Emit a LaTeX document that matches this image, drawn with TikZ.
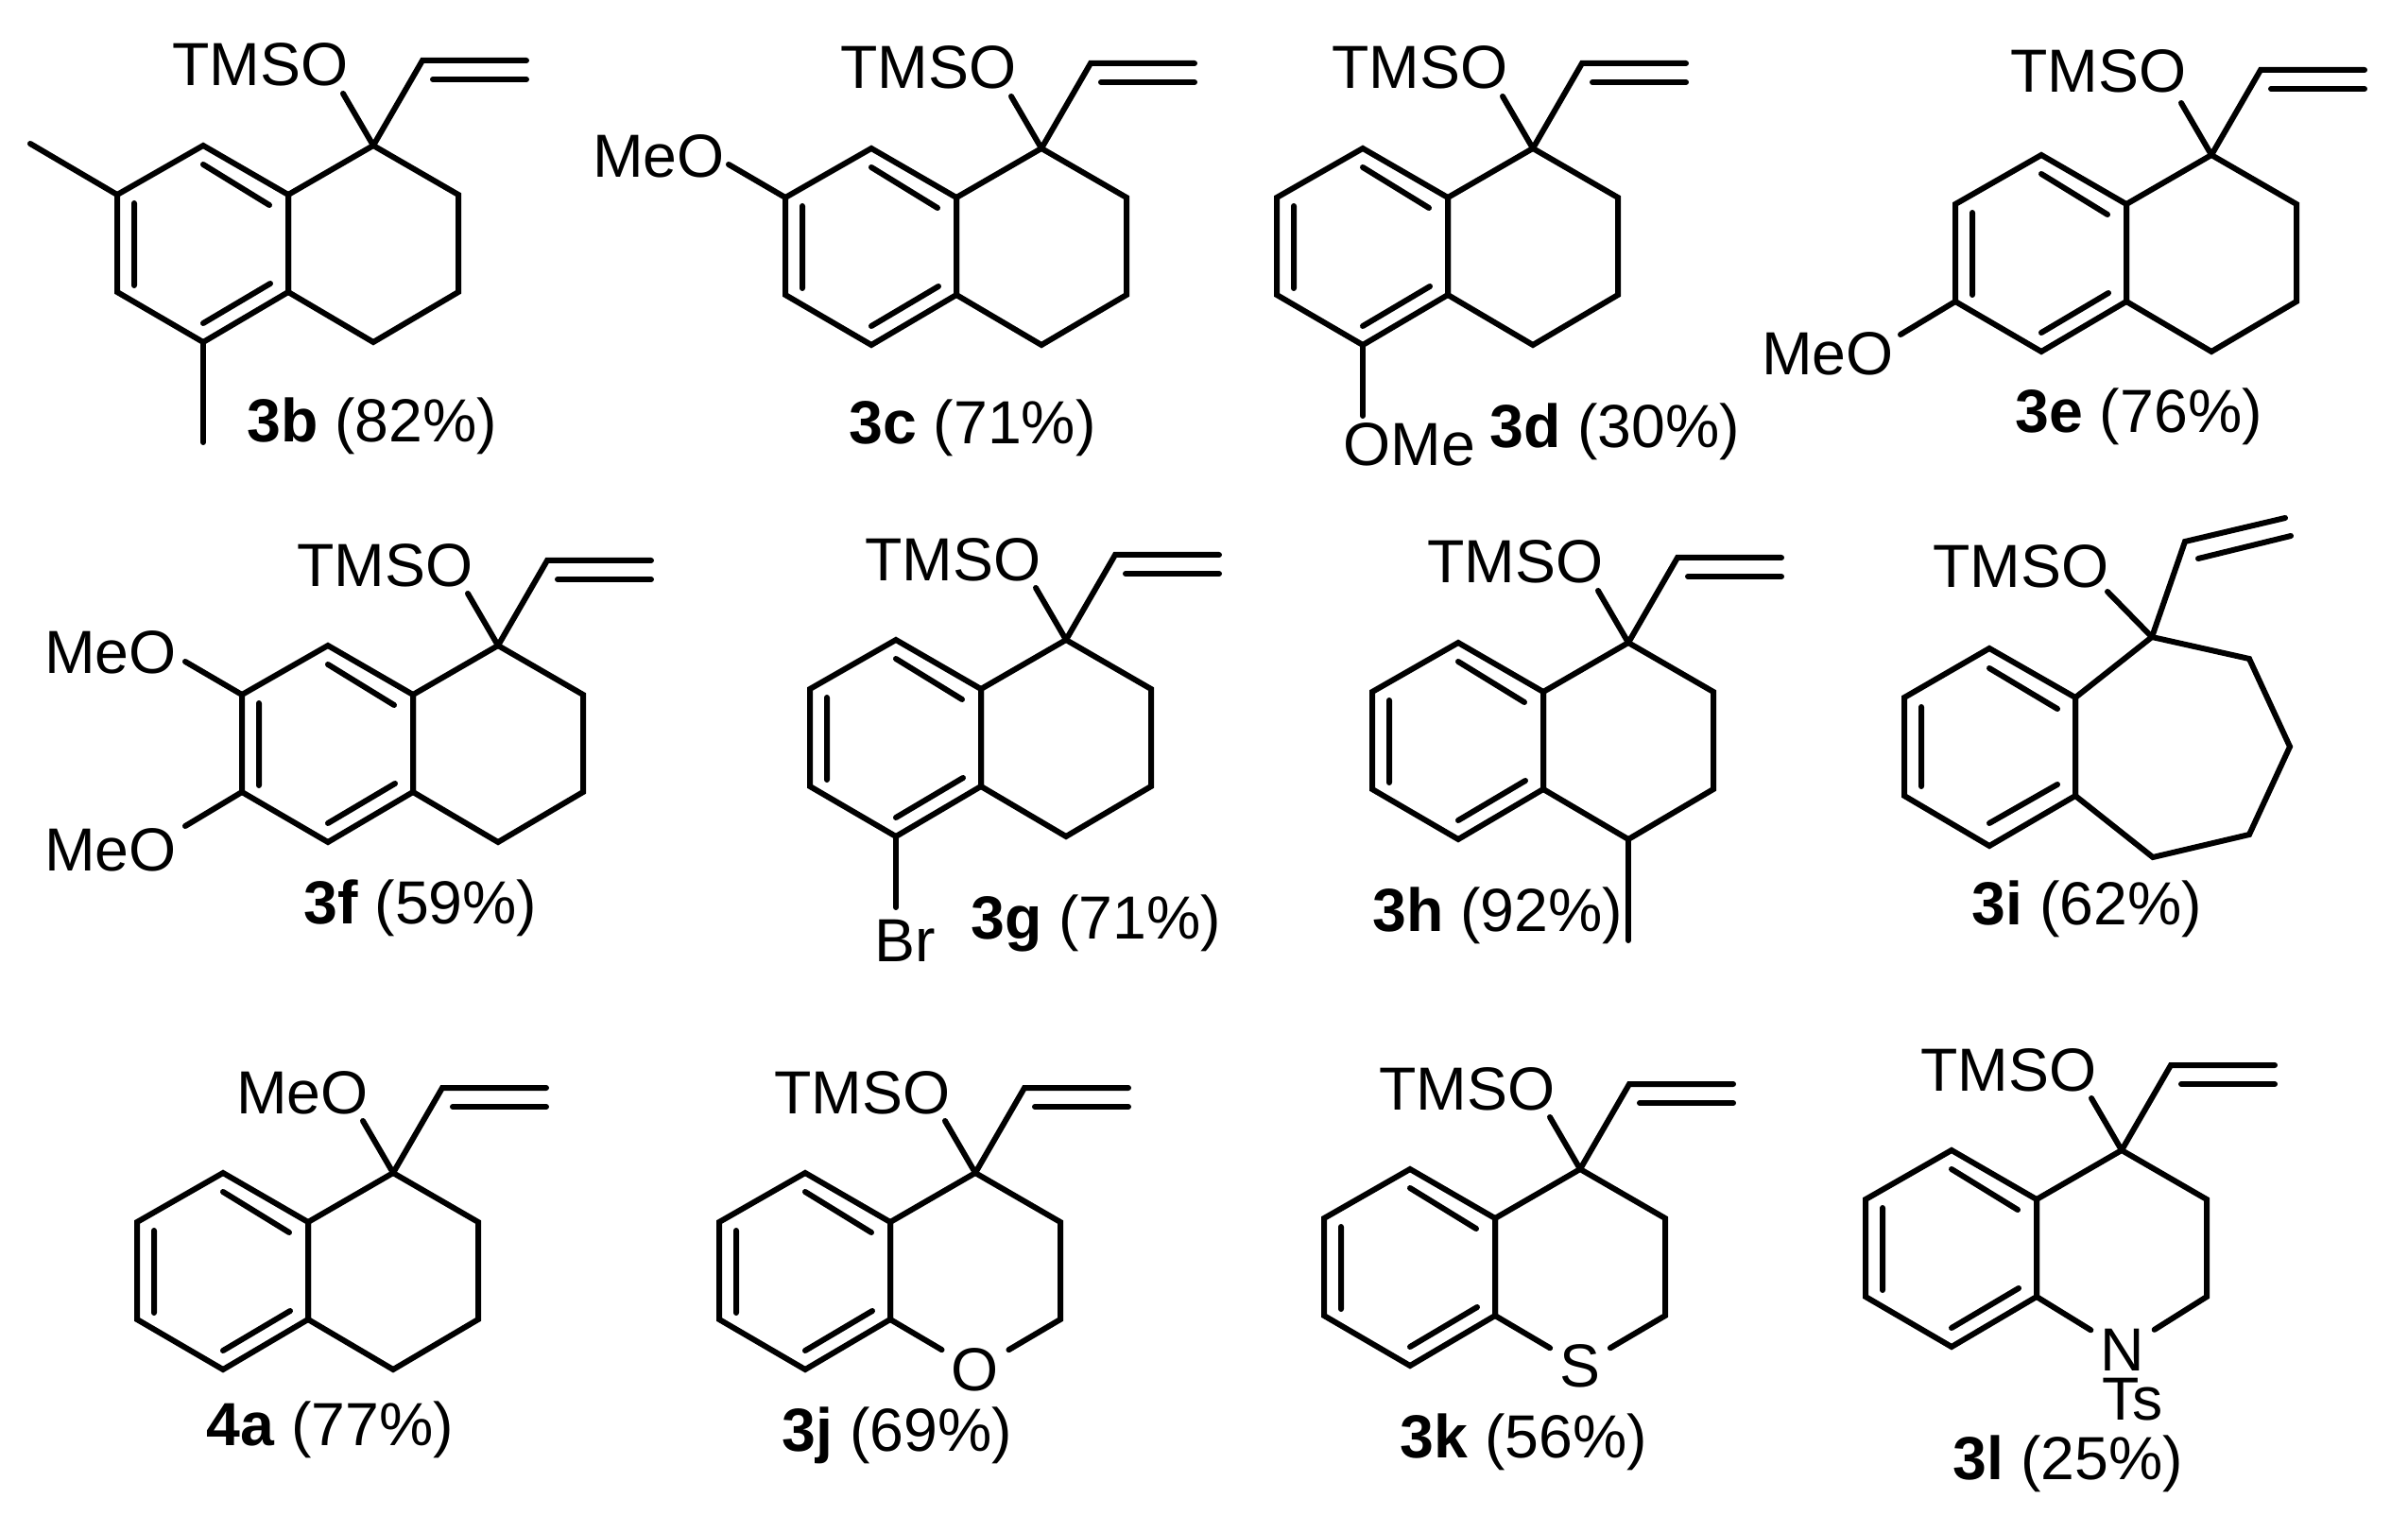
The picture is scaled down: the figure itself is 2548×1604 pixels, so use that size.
\documentclass[tikz,border=0pt]{standalone}
\usepackage{fontspec}
\setmainfont{Liberation Sans}
\usetikzlibrary{calc}
\tikzset{
  x=0.5pt,y=-0.5pt,
  bond/.style={line width=3pt,line cap=round,line join=miter,miter limit=10},
  chem/.style={inner sep=0pt,font=\fontsize{32.2}{32.2}\selectfont},
  atomL/.style={chem,anchor=base east},
  atomR/.style={chem,anchor=base west},
  ringatom/.style={chem,inner xsep=5pt,inner ysep=0pt},
}
% skeleton coordinates, relative to the quaternary carbon at (#1,#2)
\newcommand\skel[2]{%
 \begin{scope}[shift={(#1,#2)}]
  \coordinate (q) at (0,0);
  \coordinate (c8a) at (-90,52); \coordinate (c4a) at (-90,155);
  \coordinate (c4) at (0,208); \coordinate (c3) at (90,155); \coordinate (c2) at (90,52);
  \coordinate (c8) at (-180,0); \coordinate (c7) at (-271,52);
  \coordinate (c6) at (-271,155); \coordinate (c5) at (-180,208);
  \coordinate (i1a) at (-180,20); \coordinate (i1b) at (-110,63);
  \coordinate (i2a) at (-253,61); \coordinate (i2b) at (-253,148);
  \coordinate (i3a) at (-180,188); \coordinate (i3b) at (-109,146);
  \coordinate (v1) at (52,-90); \coordinate (v2) at (162,-90);
  \coordinate (w1) at (63,-70); \coordinate (w2) at (162,-70);
  \coordinate (oe) at (-32,-55); \coordinate (ot) at (-26,-63);
 \end{scope}}
\newcommand\arene{%
  \draw[bond] (c8a) -- (c8) -- (c7) -- (c6) -- (c5) -- (c4a) -- cycle;
  \draw[bond] (i1a) -- (i1b) (i2a) -- (i2b) (i3a) -- (i3b);}
\newcommand\topgrp{%
  \draw[bond] (q) -- (oe);
  \draw[bond] (q) -- (v1) -- (v2);
  \draw[bond] (w1) -- (w2);}
\newcommand\carboring{%
  \draw[bond] (q) -- (c8a) -- (c4a) -- (c4) -- (c3) -- (c2) -- cycle;}
\newcommand\heteroring[1]{%
  \draw[bond] (c4a) -- (c8a) -- (q) -- (c2) -- (c3) -- (#1);
  \draw[bond] (c4a) -- (#1);}
\begin{document}
\begin{tikzpicture}
\useasboundingbox (0,0) rectangle (2548,1604);

% 3b
\skel{395}{154} \carboring \arene \topgrp
\node[atomL] (t3b) at (ot) {TMSO};
\coordinate (m3b1) at (32,152); \coordinate (m3b2) at (215,468);
\draw[bond] (c7) -- (m3b1); \draw[bond] (c5) -- (m3b2);
\node[atomR] (l3b) at (261,468) {\textbf{3b} (82\%)};

% 3c
\skel{1102}{157} \carboring \arene \topgrp
\node[atomL] (t3c) at (ot) {TMSO};
\node[atomL] (m3c) at (767,188) {MeO};
\coordinate (e3c) at (771,174); \draw[bond] (c7) -- (e3c);
\node[atomR] (l3c) at (898,470) {\textbf{3c} (71\%)};

% 3d
\skel{1622}{157} \carboring \arene \topgrp
\node[atomL] (t3d) at (ot) {TMSO};
\node[atomR] (m3d) at (1421,493) {OMe};
\coordinate (e3d) at (1442,440); \draw[bond] (c5) -- (e3d);
\node[atomR] (l3d) at (1576,474) {\textbf{3d} (30\%)};

% 3e
\skel{2340}{164} \carboring \arene \topgrp
\node[atomL] (t3e) at ($(q)+(-26,-66)$) {TMSO};
\node[atomL] (m3e) at (2004,397) {MeO};
\coordinate (e3e) at (2011,354); \draw[bond] (c6) -- (e3e);
\node[atomR] (l3e) at (2132,458) {\textbf{3e} (76\%)};

% 3f
\skel{527}{683} \carboring \arene \topgrp
\node[atomL] (t3f) at (ot) {TMSO};
\node[atomL] (m3f1) at (187,712) {MeO};
\node[atomL] (m3f2) at (187,921) {MeO};
\coordinate (e3f1) at (196,700); \coordinate (e3f2) at (196,874);
\draw[bond] (c7) -- (e3f1); \draw[bond] (c6) -- (e3f2);
\node[atomR] (l3f) at (321,977) {\textbf{3f} (59\%)};

% 3g
\skel{1128}{677} \carboring \arene \topgrp
\node[atomL] (t3g) at (ot) {TMSO};
\node[atomR] (m3g) at (925,1017) {Br};
\coordinate (e3g) at (948,960); \draw[bond] (c5) -- (e3g);
\node[atomR] (l3g) at (1027,993) {\textbf{3g} (71\%)};

% 3h
\skel{1723}{680} \carboring \arene \topgrp
\node[atomL] (t3h) at (ot) {TMSO};
\coordinate (e3h) at (1723,995); \draw[bond] (c4) -- (e3h);
\node[atomR] (l3h) at (1452,985) {\textbf{3h} (92\%)};

% 3i
\coordinate (a1) at (2277,674); \coordinate (a2) at (2196,738); \coordinate (a3) at (2196,842);
\coordinate (a4) at (2278,907); \coordinate (a5) at (2380,883); \coordinate (a6) at (2423,790);
\coordinate (a7) at (2380,697); \coordinate (b1) at (2105,686); \coordinate (b2) at (2015,738);
\coordinate (b3) at (2015,842); \coordinate (b4) at (2105,895);
\coordinate (j1) at (2105,707); \coordinate (j2) at (2177,750);
\coordinate (j3) at (2033,748); \coordinate (j4) at (2033,832);
\coordinate (j5) at (2105,871); \coordinate (j6) at (2177,830);
\coordinate (k1) at (2312,573); \coordinate (k2) at (2418,548);
\coordinate (k3) at (2326,591); \coordinate (k4) at (2424,567); \coordinate (k5) at (2230,626);
\draw[bond] (a1) -- (a2) -- (a3) -- (a4) -- (a5) -- (a6) -- (a7) -- cycle;
\draw[bond] (a2) -- (b1) -- (b2) -- (b3) -- (b4) -- (a3) -- cycle;
\draw[bond] (j1) -- (j2) (j3) -- (j4) (j5) -- (j6);
\draw[bond] (a1) -- (k5);
\draw[bond] (a1) -- (k1) -- (k2);
\draw[bond] (k3) -- (k4);
\node[atomL] (t3i) at (2232,622) {TMSO};
\node[atomR] (l3i) at (2086,978) {\textbf{3i} (62\%)};

% 4a
\skel{416}{1241} \carboring \arene \topgrp
\node[atomL] (t4a) at (ot) {MeO};
\node[atomR] (l4a) at (218,1529) {\textbf{4a} (77\%)};

% 3j
\skel{1032}{1241} \arene \topgrp
\node[atomL] (t3j) at (ot) {TMSO};
\node[ringatom] (o3j) at (c4) {O};
\heteroring{o3j}
\node[atomR] (l3j) at (827,1535) {\textbf{3j} (69\%)};

% 3k
\skel{1672}{1237} \arene \topgrp
\node[atomL] (t3k) at (ot) {TMSO};
\node[ringatom] (s3k) at (c4) {S};
\heteroring{s3k}
\node[atomR] (l3k) at (1481,1542) {\textbf{3k} (56\%)};

% 3l
\skel{2245}{1217} \arene \topgrp
\node[atomL] (t3l) at (ot) {TMSO};
\node[ringatom] (n3l) at (2246,1428) {N};
\heteroring{n3l}
\node[atomR] (ts3l) at (2224,1502) {Ts};
\node[atomR] (l3l) at (2066,1565) {\textbf{3l} (25\%)};
\end{tikzpicture}
\end{document}
